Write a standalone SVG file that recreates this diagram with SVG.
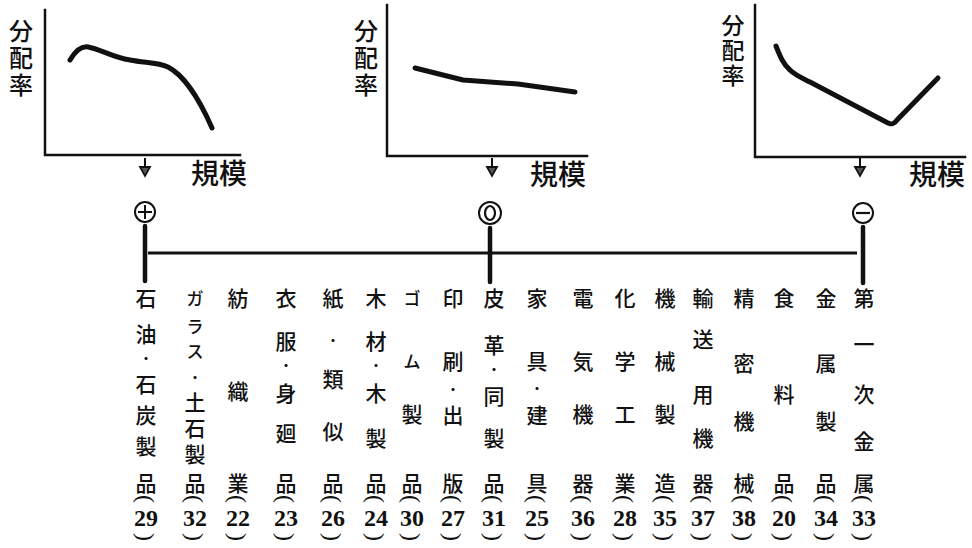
<svg xmlns="http://www.w3.org/2000/svg" width="972" height="548" viewBox="0 0 972 548">
<style>
.bg{fill:#ffffff}
.ax{stroke:#111;stroke-width:2.5;fill:none;stroke-linecap:square}
.cv{stroke:#111;stroke-width:5;fill:none;stroke-linecap:round;stroke-linejoin:round}
.ar{stroke:#111;stroke-width:2;fill:none}
.ah{stroke:#111;stroke-width:1.8;fill:#555}
.bar{stroke:#111;stroke-width:3.2;fill:none}
.vb{stroke:#111;stroke-width:4.5;fill:none;stroke-linecap:round}
.cir{stroke:#111;stroke-width:2;fill:#fff}
.lab{font-family:"Noto Sans CJK JP","Noto Sans CJK SC",sans-serif;font-size:24px;font-weight:500;fill:#111;writing-mode:vertical-rl;letter-spacing:3px}
.lab.s{font-size:23px;letter-spacing:2px}
.sc{font-family:"Noto Sans CJK JP","Noto Sans CJK SC",sans-serif;font-size:28px;font-weight:500;fill:#111;dominant-baseline:central}
.c text{font-family:"Noto Sans CJK JP","Noto Sans CJK SC",sans-serif;font-size:21px;font-weight:500;fill:#111;text-anchor:middle;dominant-baseline:central}
.c text.k{font-size:17px}
.c text.d{font-size:12px;font-weight:bold}
.c text.v{writing-mode:vertical-rl;text-anchor:start;dominant-baseline:auto;letter-spacing:5px}
.c text.n{font-family:"Liberation Serif",serif;font-size:24px;font-weight:bold}
.c text.p{font-family:"Liberation Serif",serif;font-size:24px;font-weight:normal}
</style>
<rect class="bg" x="0" y="0" width="972" height="548"/>

<g id="chart-positive">
<polyline class="ax" points="45,10 45,155 240,155"/>
<text class="lab" x="21" y="19">分配率</text>
<path class="cv" d="M70,60 C76,50 82,46 88,47 C100,49 112,57 130,60 C145,63 158,62 168,67 C182,74 198,96 212,128"/>
<line class="ar" x1="145" y1="158" x2="145" y2="168"/>
<polygon class="ah" points="140,167 150,167 145,176"/>
<text class="sc" x="191" y="172">規模</text>
</g>

<g id="chart-zero">
<polyline class="ax" points="387,5 387,156 587,156"/>
<text class="lab" x="366" y="19">分配率</text>
<path class="cv" d="M415,68 L463,80 L518,84 L575,92"/>
<line class="ar" x1="492" y1="158" x2="492" y2="168"/>
<polygon class="ah" points="487,167 497,167 492,176"/>
<text class="sc" x="530" y="173">規模</text>
</g>

<g id="chart-negative">
<polyline class="ax" points="755,5 755,157 965,157"/>
<text class="lab s" x="733" y="14">分配率</text>
<path class="cv" d="M776,46 C780,56 783,64 790,70 C795,75 800,77 810,82 L888,123 C892,125 894,124 897,120 L938,78"/>
<line class="ar" x1="860" y1="158" x2="860" y2="168"/>
<polygon class="ah" points="855,167 865,167 860,176"/>
<text class="sc" x="909" y="173">規模</text>
</g>

<g id="marker-plus">
<circle class="cir" cx="145" cy="212" r="10"/>
<line x1="145" y1="205" x2="145" y2="219" stroke="#111" stroke-width="2"/>
<line x1="138" y1="212" x2="152" y2="212" stroke="#111" stroke-width="2"/>
</g>
<g id="marker-zero">
<circle class="cir" cx="490" cy="213" r="11"/>
<ellipse cx="490" cy="213" rx="5" ry="7" fill="none" stroke="#111" stroke-width="2.2"/>
</g>
<g id="marker-minus">
<circle class="cir" cx="863" cy="213" r="10"/>
<line x1="856" y1="213" x2="870" y2="213" stroke="#111" stroke-width="2.2"/>
</g>

<g id="connectors">
<line class="bar" x1="148" y1="253" x2="857" y2="253"/>
<line class="vb" x1="145" y1="226" x2="145" y2="281"/>
<line class="vb" x1="490" y1="228" x2="490" y2="282"/>
<line class="vb" x1="863" y1="227" x2="863" y2="283"/>
</g>

<g id="col-29" class="c"><text x="146" y="297">石</text><text x="146" y="333">油</text><text class="d" x="146" y="358">・</text><text x="146" y="383">石</text><text x="146" y="414">炭</text><text x="146" y="445">製</text><text x="146" y="482">品</text><text class="p" transform="translate(146,499) rotate(90)">(</text><text class="n" x="146" y="518">29</text><text class="p" transform="translate(146,537) rotate(90)">)</text></g>
<g id="col-32" class="c"><text class="k" x="195" y="297">ガ</text><text class="k" x="195" y="325">ラ</text><text class="k" x="195" y="350">ス</text><text class="d" x="195" y="377">・</text><text class="v" x="195" y="392">土石製</text><text x="195" y="482">品</text><text class="p" transform="translate(195,499) rotate(90)">(</text><text class="n" x="195" y="518">32</text><text class="p" transform="translate(195,537) rotate(90)">)</text></g>
<g id="col-22" class="c"><text x="238" y="297">紡</text><text x="238" y="390">織</text><text x="238" y="482">業</text><text class="p" transform="translate(238,499) rotate(90)">(</text><text class="n" x="238" y="518">22</text><text class="p" transform="translate(238,537) rotate(90)">)</text></g>
<g id="col-23" class="c"><text x="286" y="297">衣</text><text x="286" y="340">服</text><text class="d" x="286" y="365">・</text><text x="286" y="392">身</text><text x="286" y="432">廻</text><text x="286" y="482">品</text><text class="p" transform="translate(286,499) rotate(90)">(</text><text class="n" x="286" y="518">23</text><text class="p" transform="translate(286,537) rotate(90)">)</text></g>
<g id="col-26" class="c"><text x="333" y="297">紙</text><text class="d" x="333" y="340">・</text><text x="333" y="378">類</text><text x="333" y="430">似</text><text x="333" y="482">品</text><text class="p" transform="translate(333,499) rotate(90)">(</text><text class="n" x="333" y="518">26</text><text class="p" transform="translate(333,537) rotate(90)">)</text></g>
<g id="col-24" class="c"><text x="376" y="297">木</text><text x="376" y="340">材</text><text class="d" x="376" y="365">・</text><text x="376" y="392">木</text><text x="376" y="437">製</text><text x="376" y="482">品</text><text class="p" transform="translate(376,499) rotate(90)">(</text><text class="n" x="376" y="518">24</text><text class="p" transform="translate(376,537) rotate(90)">)</text></g>
<g id="col-30" class="c"><text class="k" x="412" y="297">ゴ</text><text class="k" x="412" y="360">ム</text><text x="412" y="413">製</text><text x="412" y="482">品</text><text class="p" transform="translate(412,499) rotate(90)">(</text><text class="n" x="412" y="518">30</text><text class="p" transform="translate(412,537) rotate(90)">)</text></g>
<g id="col-27" class="c"><text x="453" y="297">印</text><text x="453" y="360">刷</text><text class="d" x="453" y="389">・</text><text x="453" y="414">出</text><text x="453" y="482">版</text><text class="p" transform="translate(453,499) rotate(90)">(</text><text class="n" x="453" y="518">27</text><text class="p" transform="translate(453,537) rotate(90)">)</text></g>
<g id="col-31" class="c"><text x="494" y="297">皮</text><text x="494" y="344">革</text><text class="d" x="494" y="369">・</text><text x="494" y="395">同</text><text x="494" y="437">製</text><text x="494" y="482">品</text><text class="p" transform="translate(494,499) rotate(90)">(</text><text class="n" x="494" y="518">31</text><text class="p" transform="translate(494,537) rotate(90)">)</text></g>
<g id="col-25" class="c"><text x="537" y="297">家</text><text x="537" y="360">具</text><text class="d" x="537" y="388">・</text><text x="537" y="414">建</text><text x="537" y="482">具</text><text class="p" transform="translate(537,499) rotate(90)">(</text><text class="n" x="537" y="518">25</text><text class="p" transform="translate(537,537) rotate(90)">)</text></g>
<g id="col-36" class="c"><text x="583" y="297">電</text><text x="583" y="360">気</text><text x="583" y="413">機</text><text x="583" y="482">器</text><text class="p" transform="translate(583,499) rotate(90)">(</text><text class="n" x="583" y="518">36</text><text class="p" transform="translate(583,537) rotate(90)">)</text></g>
<g id="col-28" class="c"><text x="625" y="297">化</text><text x="625" y="360">学</text><text x="625" y="413">工</text><text x="625" y="482">業</text><text class="p" transform="translate(625,499) rotate(90)">(</text><text class="n" x="625" y="518">28</text><text class="p" transform="translate(625,537) rotate(90)">)</text></g>
<g id="col-35" class="c"><text x="665" y="297">機</text><text x="665" y="360">械</text><text x="665" y="413">製</text><text x="665" y="482">造</text><text class="p" transform="translate(665,499) rotate(90)">(</text><text class="n" x="665" y="518">35</text><text class="p" transform="translate(665,537) rotate(90)">)</text></g>
<g id="col-37" class="c"><text x="703" y="297">輸</text><text x="703" y="338">送</text><text x="703" y="393">用</text><text x="703" y="437">機</text><text x="703" y="482">器</text><text class="p" transform="translate(703,499) rotate(90)">(</text><text class="n" x="703" y="518">37</text><text class="p" transform="translate(703,537) rotate(90)">)</text></g>
<g id="col-38" class="c"><text x="744" y="297">精</text><text x="744" y="362">密</text><text x="744" y="420">機</text><text x="744" y="482">械</text><text class="p" transform="translate(744,499) rotate(90)">(</text><text class="n" x="744" y="518">38</text><text class="p" transform="translate(744,537) rotate(90)">)</text></g>
<g id="col-20" class="c"><text x="784" y="297">食</text><text x="784" y="393">料</text><text x="784" y="482">品</text><text class="p" transform="translate(784,499) rotate(90)">(</text><text class="n" x="784" y="518">20</text><text class="p" transform="translate(784,537) rotate(90)">)</text></g>
<g id="col-34" class="c"><text x="826" y="297">金</text><text x="826" y="362">属</text><text x="826" y="420">製</text><text x="826" y="482">品</text><text class="p" transform="translate(826,499) rotate(90)">(</text><text class="n" x="826" y="518">34</text><text class="p" transform="translate(826,537) rotate(90)">)</text></g>
<g id="col-33" class="c"><text x="864" y="297">第</text><text x="864" y="343">一</text><text x="864" y="393">次</text><text x="864" y="440">金</text><text x="864" y="482">属</text><text class="p" transform="translate(864,499) rotate(90)">(</text><text class="n" x="864" y="518">33</text><text class="p" transform="translate(864,537) rotate(90)">)</text></g>
</svg>
